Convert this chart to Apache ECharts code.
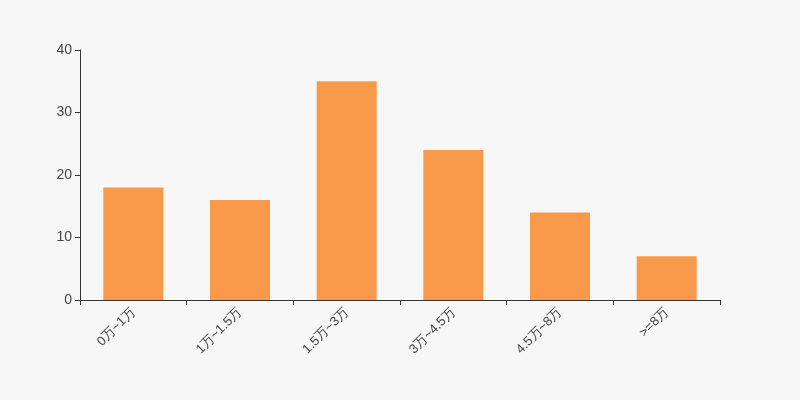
<!DOCTYPE html>
<html>
<head>
<meta charset="utf-8">
<script src="https://cdn.jsdelivr.net/npm/echarts@6/dist/echarts.min.js"></script>
<style>
html,body{margin:0;padding:0;background:#f7f7f7;}
#main{width:800px;height:400px;}
</style>
</head>
<body>
<div id="main"></div>
<script>
var categories = ['0万~1万', '1万~1.5万', '1.5万~3万', '3万~4.5万', '4.5万~8万', '>=8万'];
var values = [18, 16, 35, 24, 14, 7];

var chart = echarts.init(document.getElementById('main'));
chart.setOption({
  backgroundColor: '#f7f7f7',
  animation: false,
  grid: { left: 80, right: 80, top: 50, bottom: 100 },
  xAxis: {
    type: 'category',
    data: categories,
    axisLine: { lineStyle: { color: '#333' } },
    axisTick: { show: true, lineStyle: { color: '#333' } },
    axisLabel: { rotate: 45, color: '#444', fontSize: 13, margin: 10 }
  },
  yAxis: {
    type: 'value',
    min: 0, max: 40, interval: 10,
    axisLine: { show: true, lineStyle: { color: '#333' } },
    axisTick: { show: true, lineStyle: { color: '#333' } },
    axisLabel: { color: '#444', fontSize: 14 },
    splitLine: { show: false }
  },
  series: [{
    type: 'bar',
    data: values,
    barWidth: 60,
    itemStyle: { color: '#f89a4a' }
  }]
});
</script>
</body>
</html>
